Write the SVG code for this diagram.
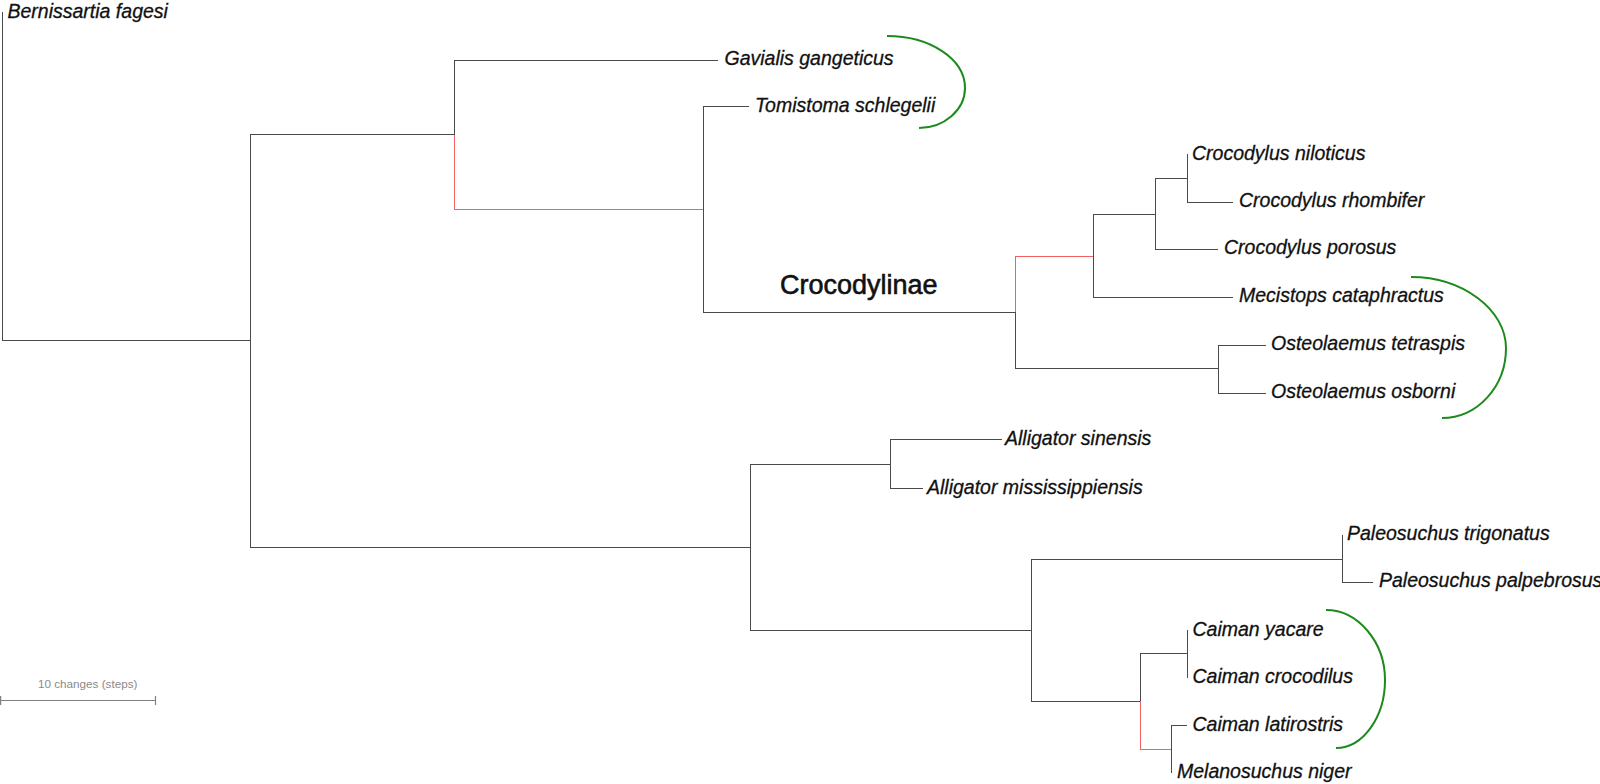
<svg xmlns="http://www.w3.org/2000/svg" width="1600" height="784" viewBox="0 0 1600 784">
<style>
.t{font-family:"Liberation Sans",Arial,sans-serif;font-style:italic;font-size:19.5px;fill:#111;stroke:#111;stroke-width:0.3}
.clade{font-family:"Liberation Sans",Arial,sans-serif;font-size:27px;fill:#111;stroke:#111;stroke-width:0.6}
.br{fill:none;stroke:#4a4a4a;stroke-width:1;shape-rendering:crispEdges}
.red{fill:none;stroke:#f26060;stroke-width:1;shape-rendering:crispEdges}
.arc{fill:none;stroke:#1d8a1d;stroke-width:2}
.sb{fill:none;stroke:#808080;stroke-width:1.2}
.sbt{font-family:"Liberation Sans",Arial,sans-serif;font-size:11.7px;fill:#8a8a8a}
</style>
<rect width="1600" height="784" fill="#fff"/>
<g id="connectors">
<path class="br" d="M2.5,12V340H250 M250,134.5V547 M250,134.5H454 M250,547H750 M454,60V134.5 M454,60H718 M703,106V312 M703,106H749 M703,312H1015 M1015,312V368H1218 M1093,214V297 M1093,214H1155 M1093,297H1233 M1155,178V249 M1155,178H1187 M1155,249H1218 M1187,154V202H1233 M1218,345V393 M1218,345H1266 M1218,393H1266 M750,464V630 M750,464H890 M750,630H1031 M890,439V488 M890,439H1002 M890,488H923 M1031,559V701 M1031,559H1342 M1031,701H1140 M1342,535V582H1373 M1140,653V701 M1140,653H1187 M1187,630V678 M1171,725V773 M1171,725H1187"/>
<path class="red" d="M454,134.5V209H703 M1015,256V312 M1015,256H1093 M1140,701V749H1171"/>
</g>
<g id="brackets">
<path class="arc" d="M887,36 C930,36 965,59 965,88 C965,110 944,128 919,128"/>
<path class="arc" d="M1411,277 C1463,277 1506,310 1506,348 C1506,387 1477,418 1442,418"/>
<path class="arc" d="M1326,610 C1358,610 1385,642 1385,680 C1385,717 1363,748 1336,748"/>
</g>
<g id="n-bernissartia"><text class="t" x="7.5" y="17.5">Bernissartia fagesi</text></g>
<g id="n-gavialis"><text class="t" x="724.5" y="65">Gavialis gangeticus</text></g>
<g id="n-tomistoma"><text class="t" x="755" y="111.5">Tomistoma schlegelii</text></g>
<g id="n-crocodylinae"><text class="clade" x="780" y="294">Crocodylinae</text></g>
<g id="n-c-niloticus"><text class="t" x="1192" y="160">Crocodylus niloticus</text></g>
<g id="n-c-rhombifer"><text class="t" x="1239" y="207">Crocodylus rhombifer</text></g>
<g id="n-c-porosus"><text class="t" x="1224" y="254">Crocodylus porosus</text></g>
<g id="n-mecistops"><text class="t" x="1239" y="302">Mecistops cataphractus</text></g>
<g id="n-o-tetraspis"><text class="t" x="1271" y="350">Osteolaemus tetraspis</text></g>
<g id="n-o-osborni"><text class="t" x="1271" y="398">Osteolaemus osborni</text></g>
<g id="n-a-sinensis"><text class="t" x="1005" y="445">Alligator sinensis</text></g>
<g id="n-a-mississippiensis"><text class="t" x="927" y="494">Alligator mississippiensis</text></g>
<g id="n-p-trigonatus"><text class="t" x="1347" y="540">Paleosuchus trigonatus</text></g>
<g id="n-p-palpebrosus"><text class="t" x="1379" y="587">Paleosuchus palpebrosus</text></g>
<g id="n-c-yacare"><text class="t" x="1192.5" y="636">Caiman yacare</text></g>
<g id="n-c-crocodilus"><text class="t" x="1192.5" y="683">Caiman crocodilus</text></g>
<g id="n-c-latirostris"><text class="t" x="1192.5" y="731">Caiman latirostris</text></g>
<g id="n-melanosuchus"><text class="t" x="1177" y="778">Melanosuchus niger</text></g>
<g id="scalebar">
<path class="sb" d="M0.6,700.5H155.5 M0.6,696V705 M155.5,696V705"/>
<text class="sbt" x="38" y="688">10 changes (steps)</text>
</g>
</svg>
